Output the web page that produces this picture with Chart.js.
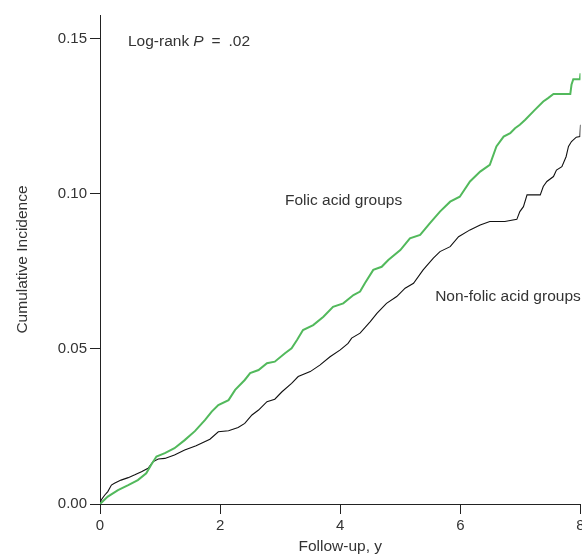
<!DOCTYPE html>
<html>
<head>
<meta charset="utf-8">
<script src="https://cdn.jsdelivr.net/npm/chart.js@4"></script>
<style>
  html, body { margin: 0; padding: 0; background: #fff; overflow: hidden; }
  #wrap { width: 582px; height: 556px; }
</style>
</head>
<body>
<div id="wrap"><canvas id="c" width="582" height="556"></canvas></div>
<script>
// ---- Data (follow-up years, cumulative incidence) ----
const folicYears = [0, 0.13, 0.30, 0.47, 0.63, 0.77, 0.85, 0.94, 1.08, 1.24, 1.41, 1.58, 1.75, 1.86, 1.97,
  2.14, 2.25, 2.41, 2.50, 2.64, 2.78, 2.91, 3.08, 3.19, 3.28, 3.38, 3.55, 3.72, 3.88, 4.05, 4.22, 4.33,
  4.41, 4.55, 4.69, 4.80, 5.00, 5.16, 5.33, 5.49, 5.66, 5.83, 5.99, 6.16, 6.33, 6.49, 6.60, 6.72, 6.83,
  6.91, 6.99, 7.08, 7.24, 7.38, 7.46, 7.55, 7.83, 7.85, 7.88, 7.99, 8.00];
const folicIncidence = [0, 0.0024, 0.0045, 0.0061, 0.0077, 0.0099, 0.0126, 0.0153, 0.0164, 0.0180, 0.0206,
  0.0235, 0.0271, 0.0298, 0.0319, 0.0335, 0.0368, 0.0400, 0.0422, 0.0432, 0.0454, 0.0459, 0.0486, 0.0502,
  0.0529, 0.0561, 0.0577, 0.0604, 0.0636, 0.0647, 0.0674, 0.0685, 0.0712, 0.0755, 0.0765, 0.0787, 0.0819,
  0.0857, 0.0868, 0.0905, 0.0943, 0.0975, 0.0991, 0.1040, 0.1072, 0.1094, 0.1153, 0.1185, 0.1196, 0.1212,
  0.1223, 0.1239, 0.1271, 0.1298, 0.1309, 0.1322, 0.1322, 0.1352, 0.1370, 0.1370, 0.1389];

const nonFolicYears = [0, 0.02, 0.08, 0.13, 0.19, 0.24, 0.35, 0.47, 0.58, 0.69, 0.80, 0.88, 0.97, 1.08, 1.24,
  1.41, 1.60, 1.83, 1.97, 2.14, 2.30, 2.41, 2.53, 2.64, 2.78, 2.91, 3.03, 3.19, 3.30, 3.50, 3.66, 3.83, 4.00,
  4.13, 4.19, 4.33, 4.50, 4.61, 4.77, 4.94, 5.08, 5.22, 5.38, 5.55, 5.66, 5.83, 5.97, 6.16, 6.33, 6.49, 6.74,
  6.94, 6.99, 7.05, 7.11, 7.33, 7.38, 7.44, 7.55, 7.60, 7.69, 7.76, 7.80, 7.85, 7.93, 7.99, 8.00];
const nonFolicIncidence = [0, 0.0013, 0.0029, 0.0040, 0.0061, 0.0067, 0.0077, 0.0085, 0.0094, 0.0104, 0.0115,
  0.0136, 0.0145, 0.0147, 0.0158, 0.0174, 0.0188, 0.0209, 0.0233, 0.0236, 0.0247, 0.0260, 0.0287, 0.0303,
  0.0330, 0.0338, 0.0362, 0.0389, 0.0411, 0.0427, 0.0448, 0.0475, 0.0497, 0.0518, 0.0535, 0.0551, 0.0588,
  0.0615, 0.0647, 0.0669, 0.0696, 0.0712, 0.0755, 0.0793, 0.0814, 0.0830, 0.0862, 0.0884, 0.0900, 0.0911,
  0.0911, 0.0918, 0.0943, 0.0959, 0.0997, 0.0997, 0.1024, 0.1040, 0.1056, 0.1077, 0.1088, 0.1120, 0.1153,
  0.1169, 0.1183, 0.1185, 0.1223];

const xTickValues = [0, 2, 4, 6, 8];
const yTickValues = [0, 0.05, 0.10, 0.15];

// annotation texts with their data anchor (x in years, y in incidence)
const noteTexts = ["Folic acid groups", "Non-folic acid groups"];
const noteX = [3.08, 5.58];
const noteY = [0.0977, 0.0668];
const pvalueParts = ["Log-rank", "P", "=", ".02"];
const pvalueX = 0.466;
const pvalueY = 0.149;

// ---- Chart ----
const toPoints = (xs, ys) => xs.map((x, i) => ({ x: x, y: ys[i] }));
const TXT = '#333333';
const AX = '#222222';
const FONT = '"Liberation Sans", Arial, sans-serif';

const notesPlugin = {
  id: 'notes',
  afterDatasetsDraw(chart) {
    const { ctx, scales: { x, y } } = chart;
    ctx.save();
    ctx.fillStyle = TXT;
    ctx.textBaseline = 'middle';
    ctx.textAlign = 'left';
    ctx.font = '15.5px ' + FONT;
    noteTexts.forEach((t, i) => {
      ctx.fillText(t, x.getPixelForValue(noteX[i]), y.getPixelForValue(noteY[i]));
    });
    const gaps = [4, 8, 8];
    let px = x.getPixelForValue(pvalueX);
    const py = y.getPixelForValue(pvalueY);
    pvalueParts.forEach((t, i) => {
      ctx.font = (i === 1 ? 'italic ' : '') + '15.5px ' + FONT;
      ctx.fillText(t, px, py);
      px += ctx.measureText(t).width + (gaps[i] || 0);
    });
    ctx.restore();
  }
};

new Chart(document.getElementById('c'), {
  type: 'line',
  data: {
    datasets: [
      {
        label: 'Folic acid groups',
        data: toPoints(folicYears, folicIncidence),
        borderColor: '#52b95c',
        borderWidth: 2,
        pointRadius: 0,
        tension: 0,
        fill: false
      },
      {
        label: 'Non-folic acid groups',
        data: toPoints(nonFolicYears, nonFolicIncidence),
        borderColor: '#111111',
        borderWidth: 1.1,
        pointRadius: 0,
        tension: 0,
        fill: false
      }
    ]
  },
  options: {
    responsive: false,
    animation: false,
    layout: { padding: { top: 15, right: 1.5, bottom: 0, left: 0 } },
    plugins: { legend: { display: false }, tooltip: { enabled: false } },
    scales: {
      x: {
        type: 'linear',
        min: 0,
        max: 8,
        afterBuildTicks: (s) => { s.ticks = xTickValues.map(v => ({ value: v })); },
        afterFit: (s) => { s.height = 52; s.paddingLeft = 0; s.paddingRight = 0; },
        ticks: {
          color: TXT,
          font: { family: FONT, size: 15 },
          padding: 3,
          maxRotation: 0,
          callback: (v) => String(v)
        },
        grid: { drawOnChartArea: false, drawTicks: true, tickLength: 10, color: AX, lineWidth: 1 },
        border: { display: true, color: AX, width: 1 },
        title: {
          display: true,
          text: 'Follow-up, y',
          color: TXT,
          font: { family: FONT, size: 15.5 },
          padding: { top: 0, bottom: 0 }
        }
      },
      y: {
        type: 'linear',
        min: 0,
        max: 0.1577,
        afterBuildTicks: (s) => { s.ticks = yTickValues.map(v => ({ value: v })); },
        afterFit: (s) => { s.width = 100; s.paddingTop = 0; s.paddingBottom = 0; },
        ticks: {
          color: TXT,
          font: { family: FONT, size: 15 },
          padding: 3,
          callback: (v) => Number(v).toFixed(2)
        },
        grid: { drawOnChartArea: false, drawTicks: true, tickLength: 10, color: AX, lineWidth: 1 },
        border: { display: true, color: AX, width: 1 },
        title: {
          display: true,
          text: 'Cumulative Incidence',
          color: TXT,
          font: { family: FONT, size: 15.5 },
          padding: { top: 13, bottom: 0 }
        }
      }
    }
  },
  plugins: [notesPlugin]
});
</script>
</body>
</html>
